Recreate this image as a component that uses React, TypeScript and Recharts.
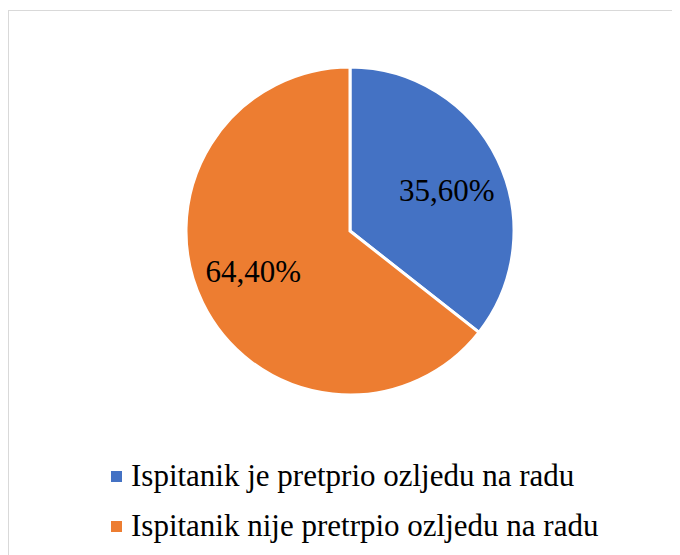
import React from 'react';
import { PieChart, Pie, Cell, Legend } from 'recharts';

const CATEGORIES = ['Ispitanik je pretprio ozljedu na radu', 'Ispitanik nije pretrpio ozljedu na radu'];
const VALUES = [35.6, 64.4];
const LABELS = ['35,60%', '64,40%'];
const COLORS = ['#4472C4', '#ED7D31'];

const FONT = '"Liberation Serif", "DejaVu Serif", serif';
const RADIAN = Math.PI / 180;

const data = CATEGORIES.map((name, i) => ({ name, value: VALUES[i], label: LABELS[i] }));

const renderLabel = ({ cx, cy, midAngle, outerRadius, index }: any) => {
    // Excel's best-fit sits slightly off the mid angle
    const angle = (midAngle - 3) * RADIAN;
    const r = outerRadius * 0.64;
    const x = cx + r * Math.cos(angle);
    const y = cy - r * Math.sin(angle);
    return (
        <text x={x} y={y} textAnchor="middle" dominantBaseline="central" fill="#000" fontSize={31} fontFamily={FONT}>
            {LABELS[index]}
        </text>
    );
};

const LegendContent = ({ payload }: any) => (
    <div style={{ fontFamily: FONT, fontSize: 31, color: '#000' }}>
        {(payload || []).map((entry: any, i: number) => (
            <div key={`leg-${i}`} style={{ display: 'flex', alignItems: 'center', height: 50, whiteSpace: 'nowrap' }}>
                <span style={{ display: 'inline-block', width: 11, height: 11, background: entry.color, marginRight: 9 }} />
                <span style={{ lineHeight: '50px' }}>{entry.value}</span>
            </div>
        ))}
    </div>
);

const App: React.FC = () => {
    return (
        <div style={{ position: 'relative', width: 672, height: 547, overflow: 'hidden' }}>
            <div style={{ position: 'absolute', left: 0, top: 2, width: 720, height: 620, border: '1px solid #d9d9d9', boxSizing: 'border-box' }} />
            <div style={{ position: 'absolute', left: 0, top: 0 }}>
                <PieChart width={672} height={547} margin={{ top: 0, right: 0, bottom: 0, left: 0 }}>
                    <Pie
                        data={data}
                        cx={342}
                        cy={223}
                        outerRadius={164}
                        startAngle={90}
                        endAngle={-270}
                        dataKey="value"
                        nameKey="name"
                        stroke="#fff"
                        strokeWidth={3}
                        label={renderLabel}
                        labelLine={false}
                        isAnimationActive={false}
                    >
                        {data.map((entry, index) => (
                            <Cell key={`cell-${index}`} fill={COLORS[index % COLORS.length]} />
                        ))}
                    </Pie>
                    <Legend
                        content={<LegendContent />}
                        wrapperStyle={{ position: 'absolute', left: 103, top: 443, width: 'auto', bottom: 'auto' }}
                    />
                </PieChart>
            </div>
        </div>
    );
};

export default App;
